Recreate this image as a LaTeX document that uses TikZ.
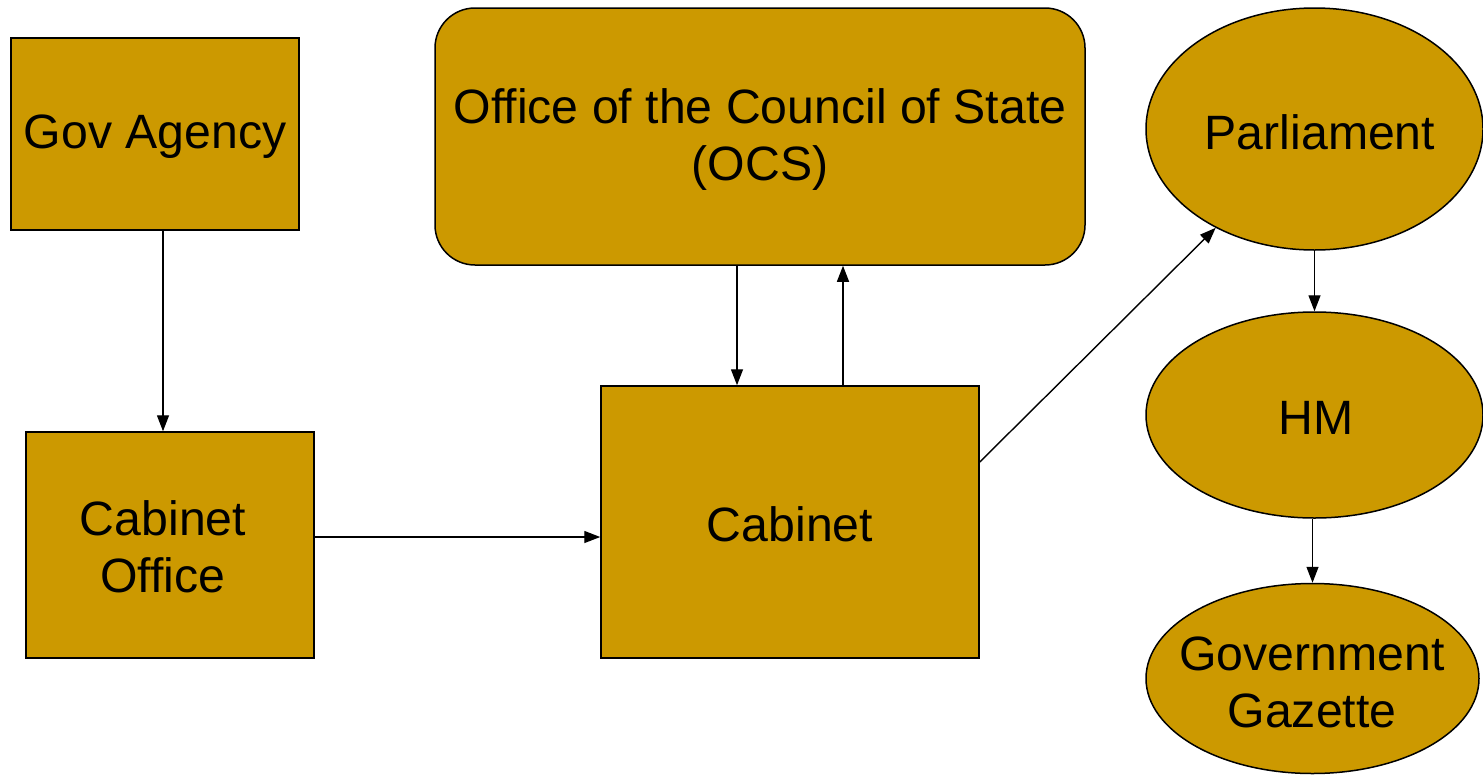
\documentclass[tikz,border=0pt]{standalone}
\usepackage{fontspec}
\setmainfont{Liberation Sans}
\usetikzlibrary{arrows.meta,shapes.geometric}
\definecolor{gold}{HTML}{CC9900}
\tikzset{
  box/.style={draw=black, line width=1.5pt, fill=gold, inner sep=0pt},
  oval/.style={box, ellipse},
  label text/.style={align=center, inner sep=0pt, font=\fontsize{48.2}{57}\selectfont},
  link/.style={draw=black, line width=1.4pt, -{Triangle[length=16pt,width=12pt]}}
}
\begin{document}
\begin{tikzpicture}[x=1pt,y=-1pt]
  \useasboundingbox (0,0) rectangle (1483,774);
  % rectangular stages
  \node[box, minimum width=288pt, minimum height=192pt] (agency) at (155,134) {};
  \node[label text] (agencyT) at (155,137) {Gov Agency};
  \node[box, minimum width=288pt, minimum height=226pt] (coffice) at (170,545) {};
  \node[label text] (cofficeT) at (163,547) {Cabinet\\Office};
  \node[box, rounded corners=40pt, minimum width=650pt, minimum height=257pt] (ocs) at (760,136.5) {};
  \node[label text] (ocsT) at (760,140) {Office of the Council of State\\(OCS)};
  \node[box, minimum width=378pt, minimum height=272pt] (cabinet) at (790,522) {};
  \node[label text] (cabinetT) at (790,524) {Cabinet};
  % elliptical stages
  \node[oval, minimum width=337pt, minimum height=242pt] (parl) at (1314.5,129) {};
  \node[label text] (parlT) at (1320,132) {Parliament};
  \node[oval, minimum width=337pt, minimum height=206pt] (hm) at (1314.5,415) {};
  \node[label text] (hmT) at (1316,418) {HM};
  \node[oval, minimum width=333pt, minimum height=190pt] (gaz) at (1312.5,678.5) {};
  \node[label text] (gazT) at (1312,682) {Government\\Gazette};
  % connectors
  \draw[link] (agency.south -| 163,0) -- (coffice.north -| 163,0);
  \draw[link] (coffice.east |- 0,537) -- (cabinet.west |- 0,537);
  \draw[link] (ocs.south -| 737,0) -- (cabinet.north -| 737,0);
  \draw[link] (cabinet.north -| 843,0) -- (ocs.south -| 843,0);
  \draw[link] (cabinet.east |- 0,462) -- (parl.-135);
  \draw[link] (parl.south) -- (hm.north);
  \draw[link] (hm.south -| gaz.north) -- (gaz.north);
\end{tikzpicture}
\end{document}
